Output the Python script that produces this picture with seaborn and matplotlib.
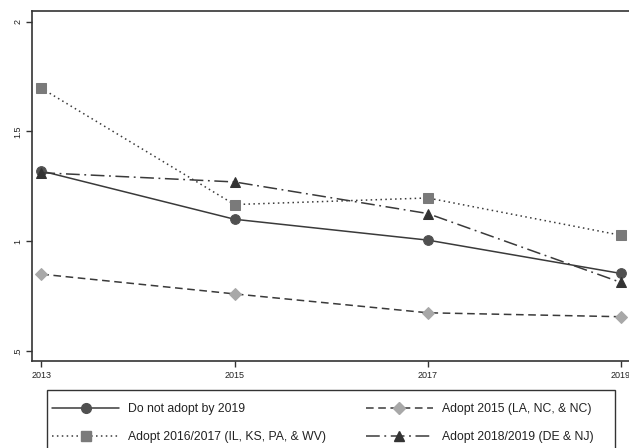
import numpy as np
import pandas as pd
import matplotlib
matplotlib.use("Agg")
import matplotlib.pyplot as plt
import seaborn as sns
from matplotlib.lines import Line2D
from matplotlib.patches import Rectangle

years = [2013, 2015, 2017, 2019]
no_adopt = [1.32, 1.10, 1.005, 0.853]
adopt_2015 = [0.85, 0.76, 0.674, 0.656]
adopt_2016_2017 = [1.697, 1.167, 1.197, 1.027]
adopt_2018_2019 = [1.312, 1.27, 1.126, 0.812]

labels = [
    "Do not adopt by 2019",
    "Adopt 2015 (LA, NC, & NC)",
    "Adopt 2016/2017 (IL, KS, PA, & WV)",
    "Adopt 2018/2019 (DE & NJ)",
]
ytick_vals = [0.5, 1.0, 1.5, 2.0]
ytick_labels = [".5", "1", "1.5", "2"]

sns.set_theme(style="white")
plt.rcParams["font.family"] = ["Liberation Sans", "DejaVu Sans"]

W, H = 629, 448
fig = plt.figure(figsize=(W / 100, H / 100), dpi=100)
# axes frame runs slightly past the right edge of the canvas
left, right, top, bottom = 32, 630.7, 10.7, 361.3
ax = fig.add_axes([left / W, 1 - bottom / H, (right - left) / W, (bottom - top) / H])

series = [
    (no_adopt, dict(color="#3a3a3a", marker="o", linestyle="-", mfc="#505050", mec="#505050", ms=7)),
    (adopt_2015, dict(color="#3a3a3a", marker="D", linestyle=(0, (5, 3)), mfc="#a8a8a8", mec="#a8a8a8", ms=6.5)),
    (adopt_2016_2017, dict(color="#3a3a3a", marker="s", linestyle=(0, (1, 2.2)), mfc="#7a7a7a", mec="#7a7a7a", ms=7)),
    (adopt_2018_2019, dict(color="#3a3a3a", marker="^", linestyle=(0, (9, 3, 1.2, 3)), mfc="#333333", mec="#333333", ms=7.5)),
]

handles = []
for (vals, st), lab in zip(series, labels):
    df = pd.DataFrame({"year": years, "value": vals})
    sns.lineplot(data=df, x="year", y="value", ax=ax, color=st["color"], linewidth=1.1,
                 marker=st["marker"], markersize=st["ms"], markerfacecolor=st["mfc"],
                 markeredgecolor=st["mec"], linestyle=st["linestyle"], legend=False, zorder=3)
    handles.append(Line2D([], [], color=st["color"], linewidth=1.1, linestyle=st["linestyle"],
                          marker=st["marker"], markersize=st["ms"], markerfacecolor=st["mfc"],
                          markeredgecolor=st["mec"]))

ax.set_xlim(2012.904, 2019.1)
ax.set_ylim(0.453, 2.05)
ax.set_xticks(years)
ax.set_xticklabels([str(y) for y in years])
ax.set_yticks(ytick_vals)
ax.set_yticklabels(ytick_labels, rotation=90, va="center")
ax.set_xlabel("")
ax.set_ylabel("")
ax.tick_params(axis="both", which="major", direction="out", length=4, width=1,
               color="#333333", labelsize=6.5, labelcolor="#222222", pad=3,
               bottom=True, left=True)
for s in ax.spines.values():
    s.set_color("#333333")
    s.set_linewidth(1.2)

# legend box: a plain rectangle that hangs off the bottom edge
box_l, box_r, box_t = 47, 615, 390
fig.patches.append(Rectangle((box_l / W, -0.05), (box_r - box_l) / W, (1 - box_t / H) + 0.05,
                             transform=fig.transFigure, fill=False,
                             edgecolor="#333333", linewidth=1.0))

# legend entries, row-wise across two columns
order = [0, 2, 1, 3]
leg = fig.legend([handles[i] for i in order], [labels[i] for i in order],
                 ncol=2, loc="upper left",
                 bbox_to_anchor=(52 / W, 1 - 403 / H),
                 frameon=False, fontsize=8.8,
                 handlelength=5.5, handletextpad=0.75, labelspacing=1.3,
                 borderpad=0, borderaxespad=0, columnspacing=3.2)
for t in leg.get_texts():
    t.set_color("#222222")

fig.savefig("out.png", dpi=100)
